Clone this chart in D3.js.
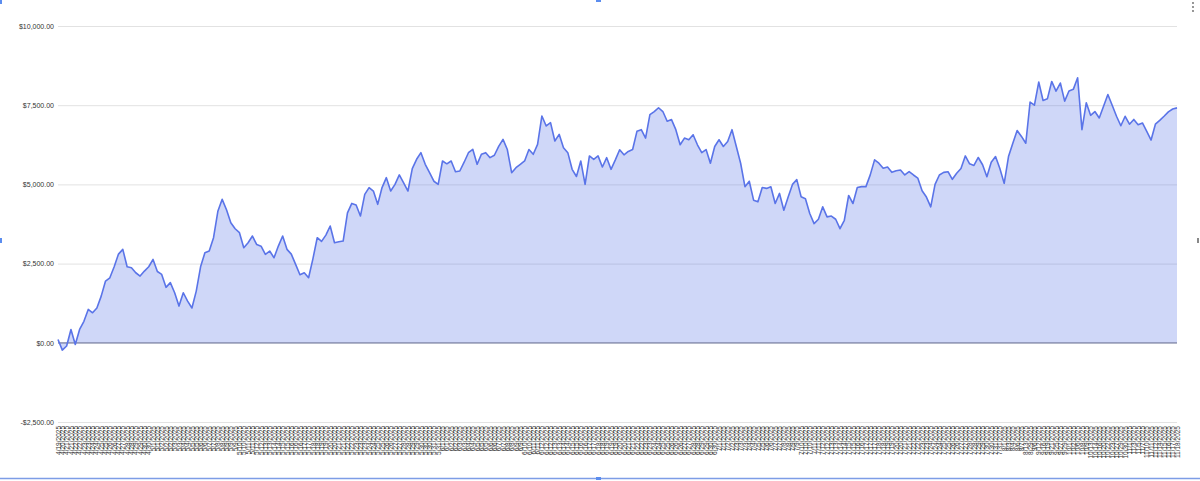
<!DOCTYPE html>
<html><head><meta charset="utf-8">
<script src="https://cdn.jsdelivr.net/npm/d3@7"></script>
<style>
html,body{margin:0;padding:0;background:#fff;}
svg{display:block;font-family:"Liberation Sans",Arial,sans-serif;}
</style></head>
<body>
<svg id="chart" width="1200" height="481"></svg>
<script>
// ---- data ----
const dates = [
"4/19/2025","4/20/2025","4/21/2025","4/21/2025","4/22/2025","4/22/2025","4/23/2025","4/23/2025","4/24/2025","4/24/2025",
"4/25/2025","4/25/2025","4/26/2025","4/26/2025","4/27/2025","4/27/2025","4/28/2025","4/28/2025","4/29/2025","4/29/2025",
"4/30/2025","4/30/2025","5/1/2025","5/1/2025","5/2/2025","5/2/2025","5/2/2025","5/3/2025","5/3/2025","5/4/2025",
"5/4/2025","5/5/2025","5/5/2025","5/6/2025","5/6/2025","5/7/2025","5/7/2025","5/8/2025","5/8/2025","5/9/2025",
"5/9/2025","5/9/2025","5/10/2025","5/10/2025","5/11/2025","5/11/2025","5/12/2025","5/12/2025","5/13/2025","5/13/2025",
"5/14/2025","5/14/2025","5/15/2025","5/15/2025","5/16/2025","5/16/2025","5/16/2025","5/17/2025","5/17/2025","5/18/2025",
"5/18/2025","5/19/2025","5/19/2025","5/20/2025","5/20/2025","5/21/2025","5/21/2025","5/22/2025","5/22/2025","5/23/2025",
"5/23/2025","5/23/2025","5/24/2025","5/24/2025","5/25/2025","5/25/2025","5/26/2025","5/26/2025","5/27/2025","5/27/2025",
"5/28/2025","5/28/2025","5/29/2025","5/29/2025","5/30/2025","5/30/2025","5/30/2025","5/31/2025","5/31/2025","6/1/2025",
"6/1/2025","6/2/2025","6/2/2025","6/3/2025","6/3/2025","6/4/2025","6/4/2025","6/5/2025","6/5/2025","6/5/2025",
"6/6/2025","6/6/2025","6/7/2025","6/7/2025","6/8/2025","6/8/2025","6/9/2025","6/9/2025","6/10/2025","6/10/2025",
"6/11/2025","6/11/2025","6/12/2025","6/12/2025","6/12/2025","6/13/2025","6/13/2025","6/14/2025","6/14/2025","6/15/2025",
"6/15/2025","6/16/2025","6/16/2025","6/17/2025","6/17/2025","6/18/2025","6/18/2025","6/19/2025","6/19/2025","6/19/2025",
"6/20/2025","6/20/2025","6/21/2025","6/21/2025","6/22/2025","6/22/2025","6/23/2025","6/23/2025","6/24/2025","6/24/2025",
"6/25/2025","6/25/2025","6/26/2025","6/26/2025","6/26/2025","6/27/2025","6/27/2025","6/28/2025","6/28/2025","6/29/2025",
"6/29/2025","6/30/2025","6/30/2025","7/1/2025","7/1/2025","7/2/2025","7/2/2025","7/3/2025","7/3/2025","7/3/2025",
"7/4/2025","7/4/2025","7/5/2025","7/5/2025","7/6/2025","7/6/2025","7/7/2025","7/7/2025","7/8/2025","7/8/2025",
"7/9/2025","7/9/2025","7/10/2025","7/10/2025","7/10/2025","7/11/2025","7/11/2025","7/12/2025","7/12/2025","7/13/2025",
"7/13/2025","7/14/2025","7/14/2025","7/15/2025","7/15/2025","7/16/2025","7/16/2025","7/17/2025","7/17/2025","7/17/2025",
"7/18/2025","7/18/2025","7/19/2025","7/19/2025","7/20/2025","7/20/2025","7/21/2025","7/21/2025","7/22/2025","7/22/2025",
"7/23/2025","7/23/2025","7/24/2025","7/24/2025","7/24/2025","7/25/2025","7/25/2025","7/26/2025","7/26/2025","7/27/2025",
"7/27/2025","7/28/2025","7/28/2025","7/29/2025","7/29/2025","7/30/2025","7/30/2025","7/31/2025","7/31/2025",
"8/1/2025","8/3/2025","8/4/2025","8/6/2025","8/7/2025","8/13/2025","8/29/2025","9/6/2025","9/12/2025","9/16/2025",
"9/19/2025","9/21/2025","9/25/2025","9/27/2025","9/29/2025","10/1/2025","10/2/2025","10/6/2025","10/8/2025","10/9/2025",
"10/13/2025","10/14/2025","10/16/2025","10/20/2025","10/22/2025","10/23/2025","10/27/2025","10/29/2025","10/30/2025","11/1/2025",
"11/3/2025","11/5/2025","11/7/2025","11/10/2025","11/11/2025","11/12/2025","11/14/2025","11/15/2025","11/16/2025","11/17/2025",
"11/18/2025"
];
const pnl = [
105,-230,-100,421,-53,420,680,1053,948,1100,
1474,1948,2053,2400,2800,2948,2400,2369,2211,2106,
2264,2400,2632,2250,2159,1750,1900,1580,1158,1580,
1316,1100,1632,2400,2843,2896,3317,4150,4528,4200,
3791,3600,3475,3001,3159,3370,3100,3050,2790,2896,
2685,3053,3370,2950,2800,2475,2150,2211,2053,2650,
3317,3200,3400,3686,3159,3190,3212,4100,4400,4350,
4001,4686,4900,4791,4370,4900,5212,4791,5000,5300,
5050,4791,5500,5792,6002,5634,5370,5100,5002,5739,
5650,5739,5400,5423,5700,6000,6107,5634,5950,6002,
5844,5920,6200,6423,6100,5370,5528,5634,5739,6100,
5950,6265,7160,6844,6949,6370,6580,6160,6002,5476,
5250,5739,5002,5897,5792,5900,5550,5844,5476,5774,
6092,5933,6039,6100,6674,6727,6462,7203,7300,7420,
7300,6992,7045,6727,6250,6462,6409,6568,6250,6000,
6100,5668,6197,6409,6197,6356,6727,6197,5668,4927,
5100,4503,4450,4900,4874,4927,4397,4715,4185,4600,
5000,5150,4609,4550,4080,3762,3900,4291,3974,4000,
3900,3603,3868,4650,4397,4900,4930,4930,5300,5774,
5668,5509,5550,5380,5430,5456,5297,5403,5297,5200,
4800,4600,4291,5000,5297,5380,5400,5160,5350,5500,
5900,5650,5600,5850,5620,5244,5700,5880,5500,5033,
5880,6300,6700,6515,6300,7600,7500,8231,7650,7700,
8250,7945,8200,7627,7950,8000,8368,6727,7574,7180,
7300,7098,7468,7839,7500,7150,6850,7150,6900,7050,
6886,6939,6674,6400,6900,7020,7150,7290,7380,7415
];
const yTicks = [-2500, 0, 2500, 5000, 7500, 10000];

// ---- chart ----
(function(){
const svg = d3.select("#chart");
const W = 1200, H = 481;
const mLeft = 58, mRight = 1177, mTop = 26, mBottom = 422;

const x = d3.scalePoint().domain(d3.range(dates.length)).range([mLeft, mRight]);
const y = d3.scaleLinear().domain([-2500, 10000]).range([mBottom, mTop]);

// frame (selected-chart outline)
svg.append("line").attr("x1",0).attr("x2",W).attr("y1",478.5).attr("y2",478.5)
  .attr("stroke","#7d9de6").attr("stroke-width",1.5);

// y axis + gridlines
const yAxis = d3.axisLeft(y).tickValues(yTicks)
  .tickFormat(d => (d < 0 ? "-$" : "$") + d3.format(",.2f")(Math.abs(d)))
  .tickSize(-(mRight - mLeft)).tickPadding(4);
const gy = svg.append("g").attr("transform", `translate(${mLeft},0)`).call(yAxis);
gy.select(".domain").remove();
gy.selectAll(".tick line").attr("stroke", "#e2e2e2").attr("stroke-width", 1);
gy.selectAll(".tick text").attr("fill", "#333").style("font-size", "7px");

// area + line
const area = d3.area().x((d,i)=>x(i)).y0(y(0)).y1(d=>y(d));
const line = d3.line().x((d,i)=>x(i)).y(d=>y(d));
svg.append("path").datum(pnl).attr("d", area).attr("fill", "#5470e6").attr("fill-opacity", 0.28);
svg.append("line").attr("x1",mLeft).attr("x2",mRight).attr("y1",y(0)).attr("y2",y(0))
  .attr("stroke","#7f86aa").attr("stroke-width",1.2);
svg.append("path").datum(pnl).attr("d", line).attr("fill","none")
  .attr("stroke","#5a74e8").attr("stroke-width",1.6).attr("stroke-linejoin","round");

// x axis
const xAxis = d3.axisBottom(x).tickSize(0).tickFormat(i => dates[i]);
const gx = svg.append("g").attr("transform", `translate(0,${mBottom + 3})`).call(xAxis);
gx.select(".domain").remove();
gx.selectAll(".tick text")
  .attr("transform","rotate(-90)")
  .attr("x",-1).attr("y",0).attr("dy","0.32em")
  .style("text-anchor","end")
  .attr("fill","#333").style("font-size","6.5px");

// small selection handles / menu
svg.append("rect").attr("x",596).attr("y",0).attr("width",5).attr("height",2).attr("fill","#5b8def");
svg.append("rect").attr("x",596).attr("y",477).attr("width",5).attr("height",3).attr("fill","#5b8def");
svg.append("rect").attr("x",0).attr("y",0).attr("width",2).attr("height",4).attr("fill","#5b8def");
svg.append("rect").attr("x",0).attr("y",238).attr("width",2).attr("height",5).attr("fill","#5b8def");
svg.append("rect").attr("x",1197).attr("y",238).attr("width",2).attr("height",5).attr("fill","#888");
[3,7,11].forEach(cy => svg.append("circle").attr("cx",1193).attr("cy",cy).attr("r",0.9).attr("fill","#666"));
})();
</script>
</body></html>
